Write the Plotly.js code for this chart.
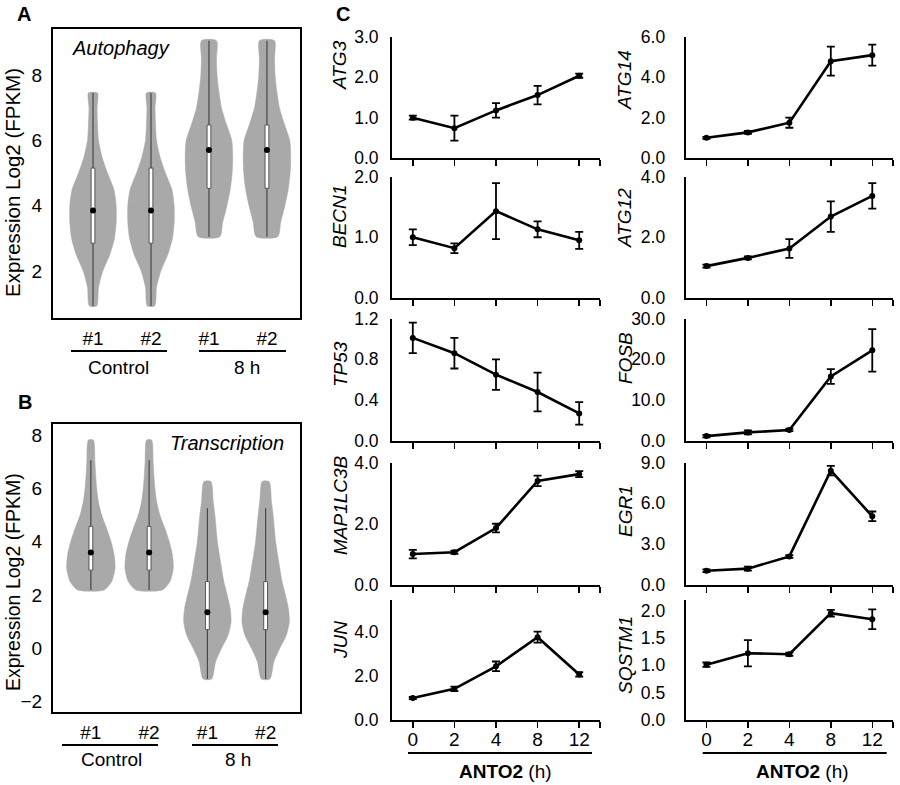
<!DOCTYPE html>
<html><head><meta charset="utf-8">
<script src="https://cdn.plot.ly/plotly-3.0.1.min.js"></script>
<style>html,body{margin:0;padding:0;background:#fff}#chart{width:900px;height:785px}</style>
</head><body><div id="chart"></div>
<script>
// ================= DATA =================
const sampleLabels = ['#1', '#2', '#1', '#2'];
const groupLabels = ['Control', '8 h'];
const sampleGroup = [0, 0, 1, 1];

// Panel A – Autophagy genes: violin outlines (level, half-width in category units)
const autoCtrlLevels = [0.93, 1.5, 2.0, 2.5, 3.0, 3.5, 4.0, 4.5, 5.0, 5.5, 6.0, 6.5, 7.0, 7.45];
const autoCtrlHalfW  = [0.064, 0.095, 0.17, 0.29, 0.37, 0.40, 0.40, 0.36, 0.25, 0.155, 0.095, 0.078, 0.07, 0.078];
const auto8hLevels   = [3.05, 3.5, 4.0, 4.5, 5.0, 5.5, 6.0, 6.5, 7.0, 7.5, 8.0, 8.5, 9.05];
const auto8hHalfW    = [0.186, 0.238, 0.31, 0.367, 0.40, 0.41, 0.393, 0.30, 0.215, 0.17, 0.14, 0.13, 0.13];
const autoQ1     = [2.85, 2.85, 4.53, 4.53];
const autoMedian = [3.85, 3.85, 5.70, 5.70];
const autoQ3     = [5.15, 5.15, 6.47, 6.47];
const autoLow    = [0.93, 0.93, 3.05, 3.05];
const autoHigh   = [7.45, 7.45, 9.05, 9.05];

// Panel B – Transcription genes
const transCtrlLevels = [2.19, 2.5, 3.0, 3.5, 4.0, 4.5, 5.0, 5.5, 6.0, 6.5, 7.0, 7.81];
const transCtrlHalfW  = [0.23, 0.357, 0.415, 0.40, 0.346, 0.27, 0.185, 0.129, 0.10, 0.082, 0.069, 0.043];
const trans8hLevels   = [-1.15, -0.5, 0, 0.5, 1.0, 1.5, 2.0, 2.5, 3.0, 4.0, 5.0, 5.5, 6.25];
const trans8hHalfW    = [0.072, 0.142, 0.244, 0.357, 0.407, 0.391, 0.34, 0.283, 0.244, 0.172, 0.129, 0.10, 0.06];
const transQ1     = [2.93, 2.93, 0.70, 0.70];
const transMedian = [3.59, 3.59, 1.35, 1.35];
const transQ3     = [4.57, 4.57, 2.50, 2.50];
const transLow    = [2.19, 2.19, -1.15, -1.15];
const transHigh   = [7.05, 7.05, 5.25, 5.25];

// Panel C – relative expression after ANTO2 treatment
const timeLabels = ['0', '2', '4', '8', '12'];
const geneNames = ['ATG3', 'BECN1', 'TP53', 'MAP1LC3B', 'JUN', 'ATG14', 'ATG12', 'FOSB', 'EGR1', 'SQSTM1'];
const atg3Mean = [1.00, 0.74, 1.18, 1.56, 2.04];    const atg3Err = [0.05, 0.31, 0.18, 0.23, 0.05];
const becn1Mean = [1.00, 0.82, 1.43, 1.13, 0.95];   const becn1Err = [0.13, 0.08, 0.46, 0.13, 0.14];
const tp53Mean = [1.01, 0.86, 0.65, 0.48, 0.27];    const tp53Err = [0.15, 0.15, 0.15, 0.19, 0.11];
const map1lc3bMean = [1.01, 1.07, 1.86, 3.40, 3.62]; const map1lc3bErr = [0.14, 0.05, 0.14, 0.17, 0.10];
const junMean = [1.00, 1.42, 2.45, 3.78, 2.08];     const junErr = [0.05, 0.10, 0.22, 0.25, 0.10];
const atg14Mean = [1.00, 1.27, 1.75, 4.80, 5.10];   const atg14Err = [0.05, 0.07, 0.25, 0.72, 0.52];
const atg12Mean = [1.05, 1.32, 1.63, 2.68, 3.36];   const atg12Err = [0.05, 0.05, 0.31, 0.50, 0.42];
const fosbMean = [1.2, 2.1, 2.7, 15.8, 22.2];       const fosbErr = [0.3, 0.5, 0.3, 1.8, 5.2];
const egr1Mean = [1.05, 1.20, 2.10, 8.40, 5.05];    const egr1Err = [0.10, 0.15, 0.10, 0.35, 0.35];
const sqstm1Mean = [1.01, 1.22, 1.20, 1.95, 1.84];  const sqstm1Err = [0.04, 0.24, 0.03, 0.06, 0.18];
const geneMeans = [atg3Mean, becn1Mean, tp53Mean, map1lc3bMean, junMean, atg14Mean, atg12Mean, fosbMean, egr1Mean, sqstm1Mean];
const geneErrs  = [atg3Err, becn1Err, tp53Err, map1lc3bErr, junErr, atg14Err, atg12Err, fosbErr, egr1Err, sqstm1Err];
const geneYMax  = [3, 2, 1.2, 4, 5.5, 6, 4, 30, 9, 2.2];
const geneYTicks = [[0,1,2,3],[0,1,2],[0,0.4,0.8,1.2],[0,2,4],[0,2,4],[0,2,4,6],[0,2,4],[0,10,20,30],[0,3,6,9],[0,0.5,1,1.5,2]];

// ================= LAYOUT HELPERS =================
const W = 900, H = 785;
const X = p => p / W;
const Y = p => 1 - p / H;
const FONT = 'Arial, "Liberation Sans", Helvetica, sans-serif';
const VCOL = '#a9a9a9';

const traces = [];
const annotations = [];
const shapes = [];

function text(t, px, py, opt = {}) {
  annotations.push(Object.assign({
    xref: 'paper', yref: 'paper', x: X(px), y: Y(py), text: t, showarrow: false,
    xanchor: 'center', yanchor: 'middle',
    font: { family: FONT, size: 19, color: '#000' }
  }, opt));
}
function hline(x0, x1, py) {
  shapes.push({ type: 'line', xref: 'paper', yref: 'paper', x0: X(x0), x1: X(x1), y0: Y(py), y1: Y(py), line: { color: '#000', width: 2 } });
}

// ---------- violin panels ----------
function violinPanel(ax, profiles, q1, med, q3, lo, hi) {
  const xa = 'x' + (ax === 1 ? '' : ax), ya = 'y' + (ax === 1 ? '' : ax);
  const bw = 0.033;
  sampleLabels.forEach((lab, i) => {
    const [lv, hw] = profiles[sampleGroup[i]];
    const xs = lv.map((v, k) => i + hw[k]).concat(lv.slice().reverse().map((v, k) => i - hw[hw.length - 1 - k]));
    const ys = lv.concat(lv.slice().reverse());
    xs.push(xs[0]); ys.push(ys[0]);
    traces.push({ type: 'scatter', mode: 'lines', x: xs, y: ys, fill: 'toself', fillcolor: VCOL,
      line: { color: VCOL, width: 0.5, shape: 'spline', smoothing: 0.7 }, xaxis: xa, yaxis: ya, hoverinfo: 'skip', showlegend: false });
  });
  sampleLabels.forEach((lab, i) => {
    // whisker
    traces.push({ type: 'scatter', mode: 'lines', x: [i, i], y: [lo[i], hi[i]],
      line: { color: '#474747', width: 1.2 }, xaxis: xa, yaxis: ya, hoverinfo: 'skip', showlegend: false });
    // box (interquartile range)
    traces.push({ type: 'scatter', mode: 'lines', x: [i - bw, i + bw, i + bw, i - bw, i - bw], y: [q1[i], q1[i], q3[i], q3[i], q1[i]],
      fill: 'toself', fillcolor: '#ffffff', line: { color: '#555', width: 1 }, xaxis: xa, yaxis: ya, hoverinfo: 'skip', showlegend: false });
  });
  traces.push({ type: 'scatter', mode: 'markers', x: sampleLabels.map((_, i) => i), y: med, marker: { color: '#000', size: 6 },
    xaxis: xa, yaxis: ya, showlegend: false });
}
violinPanel(1, [[autoCtrlLevels, autoCtrlHalfW], [auto8hLevels, auto8hHalfW]], autoQ1, autoMedian, autoQ3, autoLow, autoHigh);
violinPanel(2, [[transCtrlLevels, transCtrlHalfW], [trans8hLevels, trans8hHalfW]], transQ1, transMedian, transQ3, transLow, transHigh);

const layout = {
  width: W, height: H, margin: { l: 0, r: 0, t: 0, b: 0 },
  paper_bgcolor: '#fff', plot_bgcolor: 'rgba(0,0,0,0)', showlegend: false,
  font: { family: FONT, size: 19, color: '#000' }
};

function violinAxes(n, xDom, yDom, yRange, yTicks, xRange) {
  const common = { showline: true, mirror: true, linecolor: '#000', linewidth: 2, showgrid: false, zeroline: false, ticks: '',
    tickfont: { family: FONT, size: 19, color: '#000' } };
  layout['xaxis' + (n === 1 ? '' : n)] = Object.assign({}, common, {
    domain: [X(xDom[0]), X(xDom[1])], range: xRange, tickvals: sampleLabels.map((_, i) => i), ticktext: sampleLabels,
    ticklabelstandoff: 2, anchor: 'y' + (n === 1 ? '' : n) });
  layout['yaxis' + (n === 1 ? '' : n)] = Object.assign({}, common, {
    domain: [Y(yDom[1]), Y(yDom[0])], range: yRange, tickvals: yTicks, ticklabelstandoff: 5,
    anchor: 'x' + (n === 1 ? '' : n) });
}
violinAxes(1, [53, 300], [29.3, 318.3], [0.55, 9.4], [2, 4, 6, 8], [-0.69, 3.57]);
violinAxes(2, [53, 300], [424, 712.3], [-2.4, 8.41], [-2, 0, 2, 4, 6, 8], [-0.65, 3.59]);

// ---------- panel C line charts ----------
const colX = [[392, 600], [685.7, 893]];
const rowY = [[37, 158], [176.5, 298], [318.5, 441], [462.5, 585], [599.5, 720]];
const geneTitleY = [65, 217, 364, 505, 640, 80, 218, 358, 511, 655];
const geneTitleX = [340, 625];
const xIdx = timeLabels.map((_, i) => i);

geneNames.forEach((g, gi) => {
  const n = gi + 3;
  const col = gi < 5 ? 0 : 1, row = gi % 5;
  const xa = 'x' + n, ya = 'y' + n;
  traces.push({ type: 'scatter', mode: 'lines+markers', x: xIdx, y: geneMeans[gi],
    line: { color: '#000', width: 2.6 }, marker: { color: '#000', size: 6 },
    error_y: { type: 'data', array: geneErrs[gi], visible: true, color: '#000', thickness: 1.8, width: 4 },
    xaxis: xa, yaxis: ya, showlegend: false, name: g });
  layout['xaxis' + n] = {
    domain: [X(colX[col][0]), X(colX[col][1])], range: [-0.5, 4.5], anchor: ya,
    tickvals: xIdx.concat([4.5]), ticktext: timeLabels.concat(['']),
    ticks: 'outside', ticklen: 6, tickwidth: 1.5, tickcolor: '#000',
    showticklabels: row === 4, ticklabelstandoff: -5,
    showline: true, linecolor: '#000', linewidth: 2, showgrid: false, zeroline: false,
    tickfont: { family: FONT, size: 19, color: '#000' } };
  layout['yaxis' + n] = {
    domain: [Y(rowY[row][1]), Y(rowY[row][0])], range: [0, geneYMax[gi]], anchor: xa,
    tickvals: geneYTicks[gi], tickformat: '.1f', ticks: '',
    ticklabelstandoff: col === 0 ? 8 : 15,
    showline: true, linecolor: '#000', linewidth: 2, showgrid: false, zeroline: false,
    tickfont: { family: FONT, size: 17.5, color: '#000' } };
  text('<i>' + g + '</i>', geneTitleX[col], geneTitleY[gi], { textangle: -90 });
});

// ---------- labels ----------
text('<b>A</b>', 15, 14, { xanchor: 'left', font: { family: FONT, size: 20, color: '#000' } });
text('<b>B</b>', 16, 402, { xanchor: 'left', font: { family: FONT, size: 20, color: '#000' } });
text('<b>C</b>', 334, 14, { xanchor: 'left', font: { family: FONT, size: 20, color: '#000' } });
text('<i>Autophagy</i>', 70, 48, { xanchor: 'left', font: { family: FONT, size: 20, color: '#000' } });
text('<i>Transcription</i>', 168, 443, { xanchor: 'left', font: { family: FONT, size: 20, color: '#000' } });
text('Expression Log2 (FPKM)', 13, 183, { textangle: -90, font: { family: FONT, size: 20.5, color: '#000' } });
text('Expression Log2 (FPKM)', 13, 582, { textangle: -90, font: { family: FONT, size: 19.5, color: '#000' } });

hline(71, 167, 351); hline(199, 286, 351);
text(groupLabels[0], 118.7, 367); text(groupLabels[1], 246.7, 367);
hline(62, 158, 745); hline(192, 278, 745);
text(groupLabels[0], 111.7, 759); text(groupLabels[1], 237.5, 759);

hline(408, 592, 753); hline(702.7, 886.7, 753);
text('<b>ANTO2</b> (h)', 505.7, 771.7);
text('<b>ANTO2</b> (h)', 802.5, 771.7);

layout.annotations = annotations;
layout.shapes = shapes;

Plotly.newPlot('chart', traces, layout, { staticPlot: true, displayModeBar: false });
</script>
</body></html>
